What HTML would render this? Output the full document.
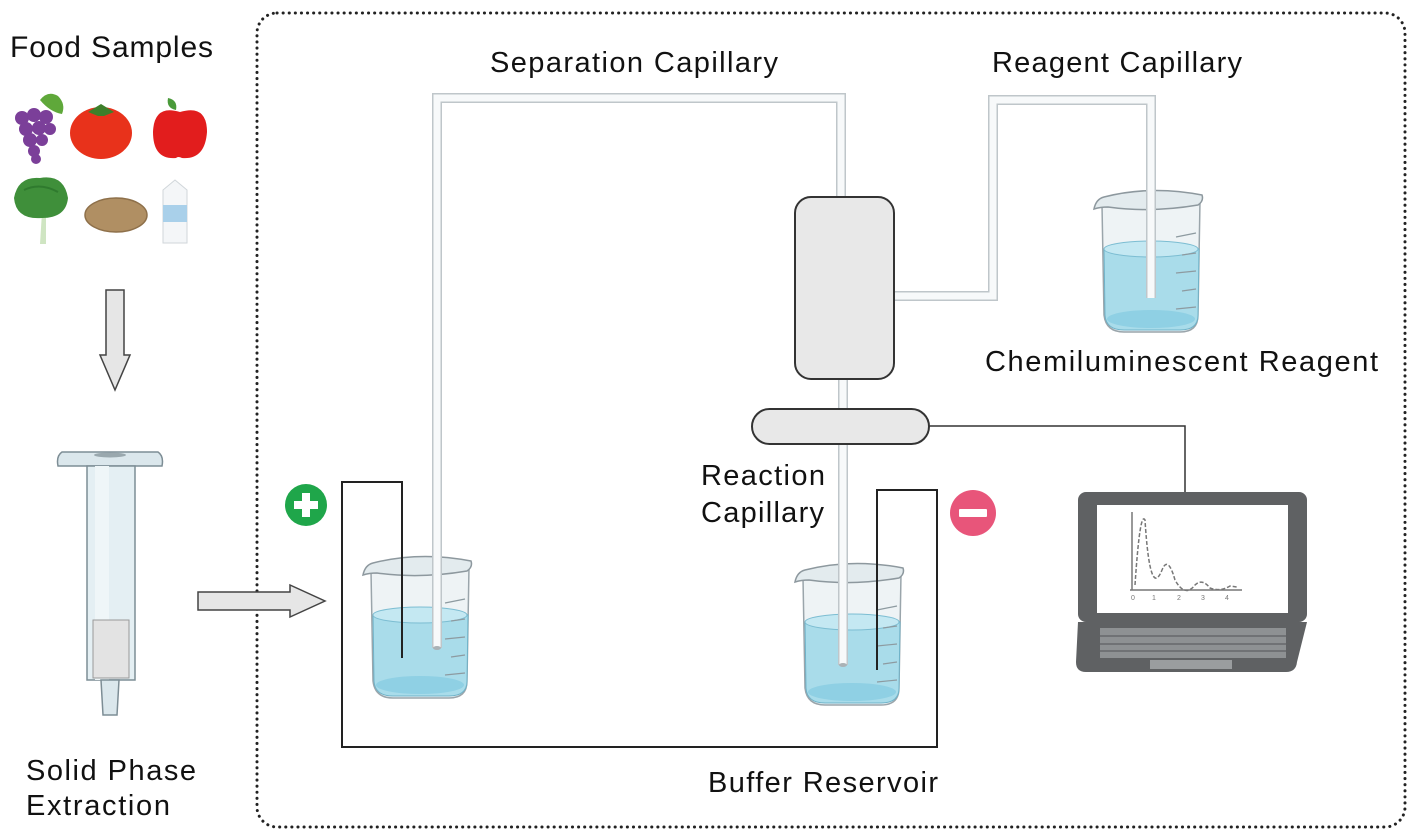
<!DOCTYPE html>
<html><head><meta charset="utf-8"><style>
html,body{margin:0;padding:0;background:#fff;}
svg{display:block;}
text{font-family:"Liberation Sans",sans-serif;fill:#111;}
</style></head><body>
<svg width="1415" height="837" viewBox="0 0 1415 837" xmlns="http://www.w3.org/2000/svg">
<defs>
<g id="beaker">
  <path d="M8 18 L10 128 Q12 145 30 145 L86 145 Q104 145 104 128 L106 14" fill="#eef3f5" stroke="#9aa5ab" stroke-width="1.5"/>
  <path d="M10 62 Q57 54 105 62 L104 128 Q104 143 86 143 L30 143 Q12 143 11 128 Z" fill="#a9dcea" stroke="#6fb3c9" stroke-width="1"/>
  <ellipse cx="57" cy="62" rx="47" ry="8" fill="#c4e8f2" stroke="#7cbdd2" stroke-width="1"/>
  <ellipse cx="57" cy="132" rx="44" ry="9" fill="#8fd0e4"/>
  <path d="M0 22 Q2 12 10 10 Q57 -2 108 8 Q110 14 104 18 Q57 26 14 20 Q6 20 0 22 Z" fill="#e3ebee" stroke="#8d989e" stroke-width="1.5"/>
  <g stroke="#8d9aa0" stroke-width="1.2"><line x1="82" y1="50" x2="102" y2="46"/><line x1="88" y1="68" x2="102" y2="66"/><line x1="82" y1="86" x2="102" y2="84"/><line x1="88" y1="104" x2="102" y2="102"/><line x1="82" y1="122" x2="102" y2="120"/></g>
</g>
</defs>

<!-- dotted frame -->
<rect x="257" y="13" width="1148" height="814" rx="20" fill="none" stroke="#222" stroke-width="3" stroke-dasharray="0.1 6" stroke-linecap="round"/>

<!-- labels -->
<text x="10" y="57" font-size="30" textLength="203">Food Samples</text>
<text x="490" y="72" font-size="29" textLength="288">Separation Capillary</text>
<text x="992" y="72" font-size="29" textLength="250">Reagent Capillary</text>
<text x="985" y="371" font-size="29" textLength="393">Chemiluminescent Reagent</text>
<text x="701" y="485" font-size="29" textLength="124">Reaction</text>
<text x="701" y="522" font-size="29" textLength="123">Capillary</text>
<text x="708" y="792" font-size="29" textLength="230">Buffer Reservoir</text>
<text x="26" y="780" font-size="29" textLength="170">Solid Phase</text>
<text x="26" y="815" font-size="29" textLength="144">Extraction</text>

<!-- food icons -->
<g>
  <!-- grapes -->
  <path d="M40 100 Q48 90 58 96 Q66 104 62 114 Q50 112 40 100Z" fill="#5fa83a"/>
  <g fill="#7b3f99">
    <circle cx="22" cy="118" r="7"/><circle cx="34" cy="115" r="7"/><circle cx="46" cy="117" r="7"/>
    <circle cx="26" cy="129" r="7"/><circle cx="39" cy="128" r="7"/><circle cx="50" cy="129" r="6"/>
    <circle cx="30" cy="140" r="7"/><circle cx="42" cy="140" r="6"/><circle cx="34" cy="151" r="6"/><circle cx="36" cy="159" r="5"/>
  </g>
  <!-- tomato -->
  <ellipse cx="101" cy="133" rx="31" ry="26" fill="#e8321b"/>
  <path d="M88 112 L101 104 L114 112 L104 116 L98 116Z" fill="#3d7f2a"/>
  <!-- apple -->
  <path d="M180 112 Q207 104 207 132 Q205 160 182 158 Q178 156 176 158 Q153 160 153 132 Q154 104 180 112Z" fill="#e21d1d"/>
  <path d="M168 98 Q178 100 176 110 Q166 108 168 98Z" fill="#4a9a3a"/>
  <!-- spinach -->
  <path d="M40 244 L42 212 L46 212 L46 244Z" fill="#cfe5c2"/>
  <path d="M14 198 Q18 176 40 178 Q64 174 68 198 Q66 218 42 218 Q16 220 14 198Z" fill="#3f8f3a"/>
  <path d="M24 190 Q40 182 58 192" stroke="#2f7a2e" stroke-width="2" fill="none"/>
  <!-- potato -->
  <ellipse cx="116" cy="215" rx="31" ry="17" fill="#b08f63" stroke="#8e704a" stroke-width="1.5"/>
  <!-- milk -->
  <path d="M163 190 L175 180 L187 190 L187 243 L163 243Z" fill="#f4f6f8" stroke="#d0d6da" stroke-width="1"/>
  <rect x="163" y="205" width="24" height="17" fill="#a9d0ea"/>
</g>

<!-- down arrow -->
<path d="M106 290 L124 290 L124 355 L130 355 L115 390 L100 355 L106 355Z" fill="#e6e6e6" stroke="#444" stroke-width="1.5"/>
<!-- right arrow -->
<path d="M198 592 L290 592 L290 585 L325 601 L290 617 L290 610 L198 610Z" fill="#e6e6e6" stroke="#444" stroke-width="1.5"/>

<!-- SPE cartridge -->
<path d="M62 452 L158 452 Q164 456 162 466 L58 466 Q56 456 62 452Z" fill="#dbe7ec" stroke="#7d8d95" stroke-width="1.5"/>
<ellipse cx="110" cy="455" rx="16" ry="2.5" fill="#9aa8ae"/>
<rect x="87" y="466" width="48" height="214" fill="#e4eff3" stroke="#7d8d95" stroke-width="1.5"/>
<rect x="95" y="466" width="14" height="214" fill="#eff6f8"/>
<rect x="93" y="620" width="36" height="58" fill="#e3e3e3" stroke="#9a9a9a" stroke-width="1"/>
<path d="M101 680 L119 680 L117 715 L103 715Z" fill="#dbe7ec" stroke="#7d8d95" stroke-width="1.5"/>

<!-- electrical wires -->
<path d="M402 658 L402 482 L342 482 L342 747 L937 747 L937 490 L877 490 L877 670" fill="none" stroke="#222" stroke-width="2"/>

<!-- beakers -->
<use href="#beaker" transform="translate(363,553)"/>
<use href="#beaker" transform="translate(795,560)"/>
<use href="#beaker" transform="translate(1094,187)"/>
<!-- electrode lines redrawn above beakers -->
<line x1="402" y1="553" x2="402" y2="658" stroke="#222" stroke-width="2"/>
<line x1="877" y1="560" x2="877" y2="670" stroke="#222" stroke-width="2"/>

<!-- capillaries -->
<g fill="none" stroke-linejoin="miter">
  <path d="M437 648 L437 98 L841 98 L841 197" stroke="#bfc6ca" stroke-width="10"/>
  <path d="M437 648 L437 98 L841 98 L841 197" stroke="#f7f9fa" stroke-width="7"/>
  <path d="M894 296 L993 296 L993 100 L1151 100 L1151 298" stroke="#bfc6ca" stroke-width="10"/>
  <path d="M894 296 L993 296 L993 100 L1151 100 L1151 298" stroke="#f7f9fa" stroke-width="7"/>
  <path d="M843 379 L843 665" stroke="#bfc6ca" stroke-width="10"/>
  <path d="M843 379 L843 665" stroke="#f7f9fa" stroke-width="7"/>
</g>
<ellipse cx="437" cy="648" rx="4" ry="2" fill="#aab2b6"/>
<ellipse cx="843" cy="665" rx="4" ry="2" fill="#aab2b6"/>

<!-- detector box & oval -->
<rect x="795" y="197" width="99" height="182" rx="16" fill="#e8e8e8" stroke="#333" stroke-width="2"/>
<rect x="752" y="409" width="177" height="35" rx="17.5" fill="#e8e8e8" stroke="#333" stroke-width="2"/>
<path d="M929 426 L1185 426 L1185 492" fill="none" stroke="#333" stroke-width="1.5"/>

<!-- plus / minus -->
<circle cx="306" cy="505" r="21" fill="#1fa64a"/>
<rect x="294" y="501" width="24" height="8" fill="#fff"/><rect x="302" y="493" width="8" height="24" fill="#fff"/>
<circle cx="973" cy="513" r="23" fill="#e8557a"/>
<rect x="959" y="509" width="28" height="8" rx="1" fill="#fff"/>

<!-- laptop -->
<rect x="1078" y="492" width="229" height="130" rx="8" fill="#5f6163"/>
<rect x="1097" y="505" width="191" height="108" fill="#fff"/>
<path d="M1078 622 L1307 622 L1297 662 Q1296 672 1286 672 L1086 672 Q1076 672 1076 662Z" fill="#5f6163"/>
<rect x="1100" y="628" width="186" height="30" fill="#8e9193"/>
<g stroke="#5f6163" stroke-width="1.2">
  <line x1="1100" y1="636" x2="1286" y2="636"/><line x1="1100" y1="644" x2="1286" y2="644"/><line x1="1100" y1="651" x2="1286" y2="651"/>
</g>
<rect x="1150" y="660" width="82" height="9" fill="#9a9d9f"/>
<g fill="none" stroke="#777" stroke-width="1.5">
  <line x1="1132" y1="512" x2="1132" y2="590"/>
  <line x1="1130" y1="590" x2="1242" y2="590"/>
  <path d="M1135 585 Q1140 510 1145 520 Q1150 600 1162 570 Q1168 555 1175 580 Q1185 598 1195 585 Q1202 578 1210 588 Q1220 592 1230 586 L1237 587" stroke-dasharray="4 2"/>
</g>
<g font-size="7" fill="#777"><text x="1131" y="600" style="fill:#777">0</text><text x="1152" y="600" style="fill:#777">1</text><text x="1177" y="600" style="fill:#777">2</text><text x="1201" y="600" style="fill:#777">3</text><text x="1225" y="600" style="fill:#777">4</text></g>
</svg>
</body></html>
